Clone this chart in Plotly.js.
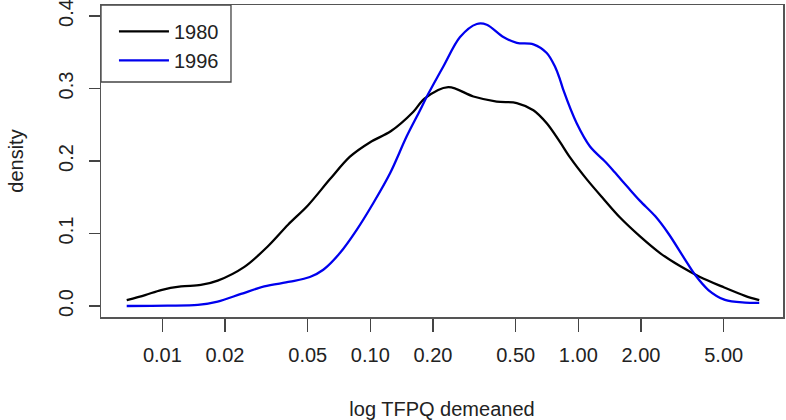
<!DOCTYPE html>
<html>
<head>
<meta charset="utf-8">
<script src="https://cdn.plot.ly/plotly-3.0.1.min.js"></script>
<style>html,body{margin:0;padding:0;background:#fff;}#chart{width:786px;height:420px;}</style>
</head>
<body>
<div id="chart"></div>
<script>
// log TFPQ demeaned (x) and density (y)
const x1980 = [0.00674, 0.00826, 0.00986, 0.0123, 0.0153, 0.01845, 0.0248, 0.0321, 0.0402, 0.0502, 0.0640, 0.0798, 0.0998, 0.1253, 0.161, 0.182, 0.237, 0.313, 0.405, 0.506, 0.608, 0.705, 0.817, 0.912, 1.096, 1.319, 1.587, 1.980, 2.471, 3.083, 3.846, 4.89, 6.33, 7.41];
const d1980 = [0.008, 0.015, 0.022, 0.027, 0.029, 0.035, 0.054, 0.082, 0.112, 0.139, 0.175, 0.206, 0.226, 0.241, 0.268, 0.286, 0.302, 0.289, 0.282, 0.280, 0.270, 0.252, 0.226, 0.205, 0.175, 0.148, 0.122, 0.096, 0.073, 0.055, 0.040, 0.027, 0.014, 0.008];
const x1996 = [0.00674, 0.0106, 0.0148, 0.01845, 0.0239, 0.0309, 0.0411, 0.0512, 0.0594, 0.0714, 0.0860, 0.1034, 0.1244, 0.1496, 0.1734, 0.187, 0.224, 0.270, 0.325, 0.363, 0.436, 0.506, 0.608, 0.705, 0.773, 0.817, 0.847, 0.982, 1.138, 1.369, 1.501, 1.739, 1.980, 2.34, 2.71, 3.26, 3.64, 4.22, 5.07, 6.33, 7.41];
const d1996 = [0.0, 0.0004, 0.0014, 0.006, 0.0166, 0.027, 0.0335, 0.040, 0.050, 0.073, 0.105, 0.142, 0.183, 0.234, 0.270, 0.289, 0.330, 0.371, 0.389, 0.388, 0.371, 0.363, 0.361, 0.349, 0.330, 0.312, 0.298, 0.252, 0.220, 0.197, 0.184, 0.163, 0.145, 0.124, 0.100, 0.064, 0.043, 0.022, 0.0083, 0.0046, 0.0042];
const xTickVals = [0.01, 0.02, 0.05, 0.1, 0.2, 0.5, 1, 2, 5];
const xTickText = ["0.01", "0.02", "0.05", "0.10", "0.20", "0.50", "1.00", "2.00", "5.00"];
const yTickVals = [0, 0.1, 0.2, 0.3, 0.4];
const yTickText = ["0.0", "0.1", "0.2", "0.3", "0.4"];
const seriesNames = ["1980", "1996"];

const FONT = "Liberation Sans, Arial, sans-serif";
const traces = [
  {x: x1980, y: d1980, name: seriesNames[0], type: "scatter", mode: "lines",
   line: {color: "#000000", width: 2.3, shape: "spline", smoothing: 0.9}},
  {x: x1996, y: d1996, name: seriesNames[1], type: "scatter", mode: "lines",
   line: {color: "#0000ee", width: 2.3, shape: "spline", smoothing: 0.9}}
];
const layout = {
  width: 786, height: 420,
  margin: {l: 101, r: 3, t: 5, b: 103},
  paper_bgcolor: "#ffffff", plot_bgcolor: "#ffffff",
  font: {family: FONT, size: 20, color: "#222222"},
  showlegend: true,
  legend: {x: 0.019, y: 0.978, xanchor: "left", yanchor: "top", bgcolor: "rgba(0,0,0,0)",
           borderwidth: 0, itemwidth: 50, font: {size: 20, family: FONT, color: "#222222"}},
  shapes: [{type: "rect", xref: "x domain", yref: "y domain", x0: 0, x1: 0.1906, y0: 0.7532, y1: 1,
            line: {color: "#444444", width: 1.3}, fillcolor: "#ffffff", layer: "below"}],
  xaxis: {type: "log", range: [Math.log10(0.00507), Math.log10(9.64)],
          tickvals: xTickVals, ticktext: xTickText, ticks: "outside", ticklen: 13, tickwidth: 1.3,
          tickcolor: "#444444", showline: true, mirror: true, linecolor: "#555555", linewidth: 1.5,
          showgrid: false, zeroline: false, ticklabelstandoff: 6, ticklabeloverflow: "allow",
          title: {text: "log TFPQ demeaned", font: {size: 20, family: FONT, color: "#222222"}, standoff: 37}},
  yaxis: {range: [-0.0152, 0.4152], tickvals: yTickVals, ticktext: yTickText, tickangle: -90,
          ticks: "outside", ticklen: 11, tickwidth: 1.3, tickcolor: "#444444",
          showline: true, mirror: true, linecolor: "#555555", linewidth: 1.5,
          showgrid: false, zeroline: false, ticklabelstandoff: 8, ticklabeloverflow: "allow",
          title: {text: "density", font: {size: 20, family: FONT, color: "#222222"}, standoff: 25}}
};
Plotly.newPlot("chart", traces, layout, {displayModeBar: false, staticPlot: true});
</script>
</body>
</html>
